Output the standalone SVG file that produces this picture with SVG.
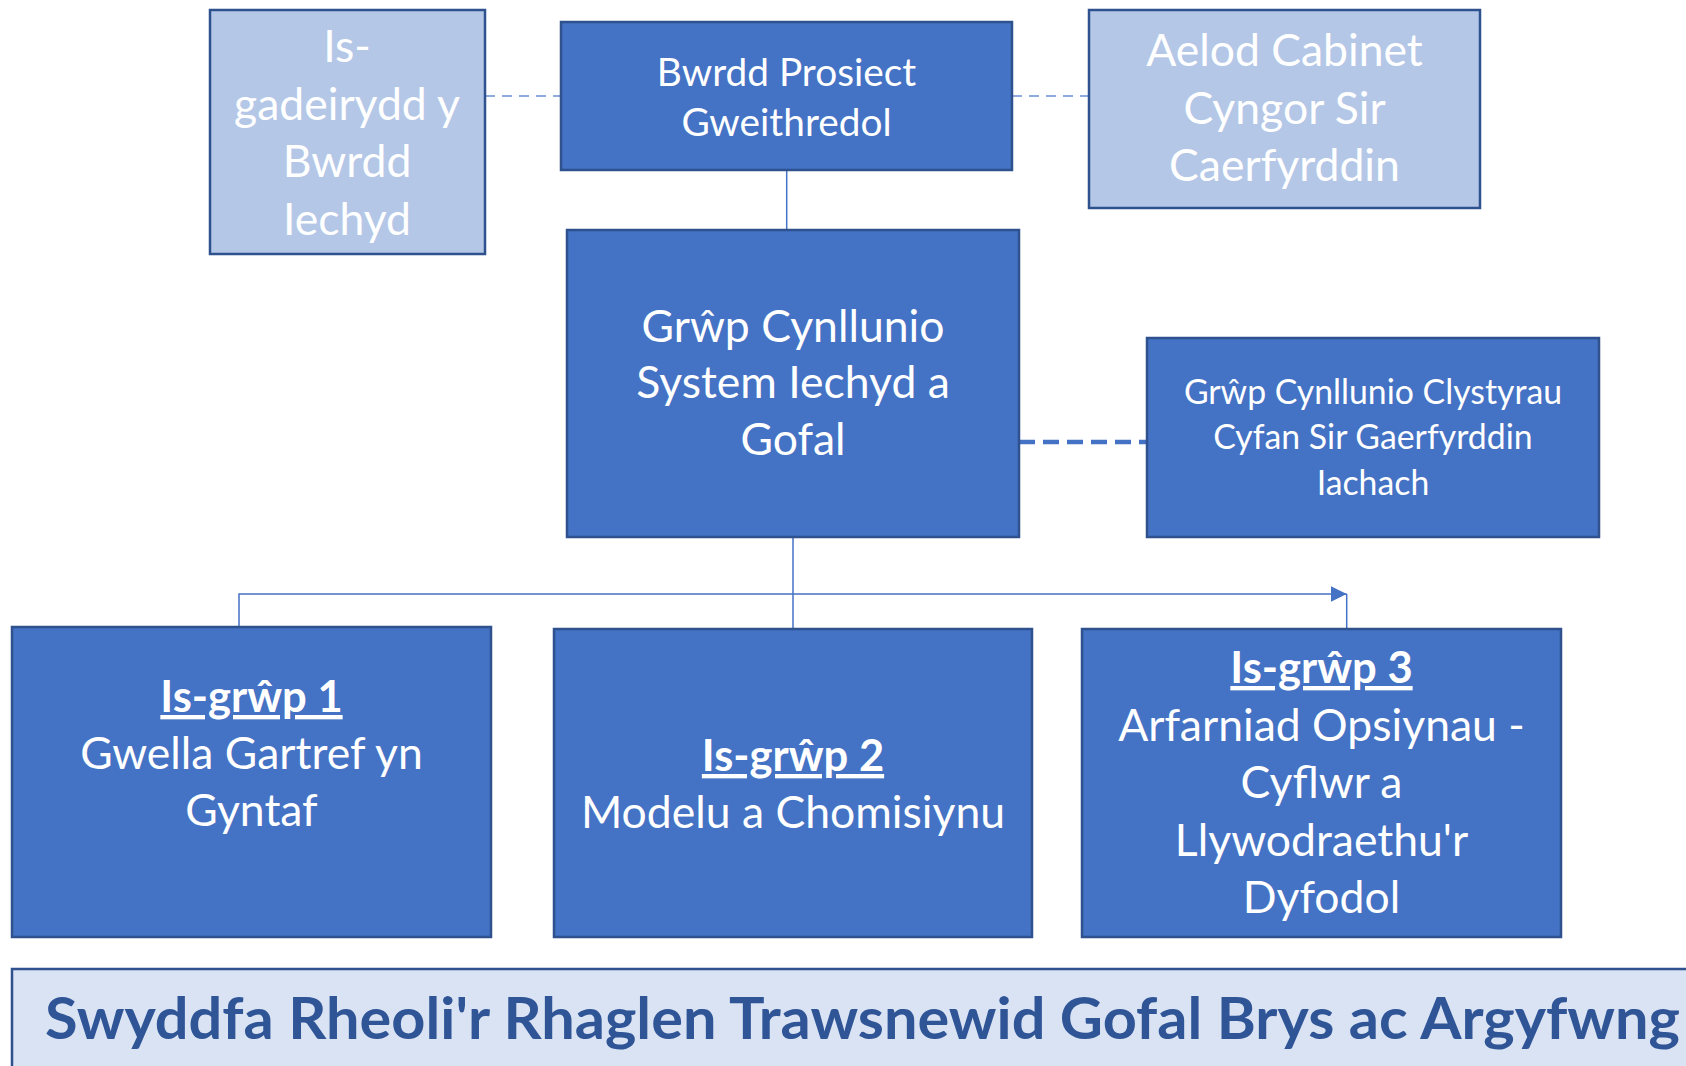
<svg xmlns="http://www.w3.org/2000/svg" width="1686" height="1066" viewBox="0 0 1686 1066">
<style>
.dark{fill:#4472C4;stroke:#2F528F;stroke-width:2.5}
.light{fill:#B4C7E7;stroke:#2F528F;stroke-width:2.5}
.banner{fill:#DAE3F3;stroke:#2F528F;stroke-width:2.5}
.t{font-family:Lato,Carlito,"Open Sans","Liberation Sans",sans-serif;fill:#FFFFFF;text-anchor:middle}
.f42{font-size:44.5px}
.f38{font-size:38.8px}
.f32{font-size:33.8px}
.b{font-weight:bold;font-size:43.5px;text-decoration:underline}
.bt{font-family:Lato,Carlito,"Open Sans","Liberation Sans",sans-serif;font-weight:bold;font-size:58px;fill:#2F5597}
.solid{fill:none;stroke:#4472C4;stroke-width:1.5}
.thin-dash{fill:none;stroke:#8FAADC;stroke-width:2;stroke-dasharray:10 7}
.thick-dash{fill:none;stroke:#4472C4;stroke-width:4.5;stroke-dasharray:16 8}
</style>
<defs>
<marker id="arrow" markerWidth="16" markerHeight="16" refX="16" refY="8" orient="auto" markerUnits="userSpaceOnUse">
<polygon points="0,0 16,8 0,16" fill="#4472C4"/>
</marker>
</defs>
<rect width="1686" height="1066" fill="#FFFFFF"/>
<g id="connectors">
<line class="thin-dash" x1="485" y1="96" x2="561" y2="96"/>
<line class="thin-dash" x1="1012" y1="96" x2="1089" y2="96"/>
<line class="solid" x1="786.7" y1="170" x2="786.7" y2="229"/>
<line class="thick-dash" x1="1019" y1="442" x2="1147" y2="442"/>
<line class="solid" x1="793" y1="537" x2="793" y2="629"/>
<path class="solid" d="M239,627 V594 H1346.7" marker-end="url(#arrow)"/>
<line class="solid" x1="1346.7" y1="594" x2="1346.7" y2="629"/>
</g>
<g id="is-gadeirydd">
<rect class="light" x="210" y="10" width="275" height="244"/>
<text class="t f42"><tspan x="347" y="62">Is-</tspan><tspan x="347" y="119.5">gadeirydd y</tspan><tspan x="347" y="177">Bwrdd</tspan><tspan x="347" y="234.5">Iechyd</tspan></text>
</g>
<g id="bwrdd-prosiect">
<rect class="dark" x="561" y="22" width="451" height="148"/>
<text class="t f38"><tspan x="786.5" y="85.7">Bwrdd Prosiect</tspan><tspan x="786.5" y="135.7">Gweithredol</tspan></text>
</g>
<g id="aelod-cabinet">
<rect class="light" x="1089" y="10" width="391" height="198"/>
<text class="t f42"><tspan x="1284.5" y="66">Aelod Cabinet</tspan><tspan x="1284.5" y="124">Cyngor Sir</tspan><tspan x="1284.5" y="181">Caerfyrddin</tspan></text>
</g>
<g id="grwp-cynllunio">
<rect class="dark" x="567" y="230" width="452" height="307"/>
<text class="t f42"><tspan x="793" y="341.7">Grŵp Cynllunio</tspan><tspan x="793" y="398.4">System Iechyd a</tspan><tspan x="793" y="455">Gofal</tspan></text>
</g>
<g id="clystyrau">
<rect class="dark" x="1147" y="338" width="452" height="199"/>
<text class="t f32"><tspan x="1373" y="404">Grŵp Cynllunio Clystyrau</tspan><tspan x="1373" y="449.3">Cyfan Sir Gaerfyrddin</tspan><tspan x="1373" y="495">Iachach</tspan></text>
</g>
<g id="is-grwp-1">
<rect class="dark" x="12" y="627" width="479" height="310"/>
<text class="t f42"><tspan class="b" x="251.5" y="712">Is-grŵp 1</tspan><tspan x="251.5" y="769">Gwella Gartref yn</tspan><tspan x="251.5" y="826">Gyntaf</tspan></text>
</g>
<g id="is-grwp-2">
<rect class="dark" x="554" y="629" width="478" height="308"/>
<text class="t f42"><tspan class="b" x="793" y="771">Is-grŵp 2</tspan><tspan x="793" y="828">Modelu a Chomisiynu</tspan></text>
</g>
<g id="is-grwp-3">
<rect class="dark" x="1082" y="629" width="479" height="308"/>
<text class="t f42"><tspan class="b" x="1321.5" y="683">Is-grŵp 3</tspan><tspan x="1321.5" y="740.5">Arfarniad Opsiynau -</tspan><tspan x="1321.5" y="798">Cyflwr a</tspan><tspan x="1321.5" y="855.5">Llywodraethu'r</tspan><tspan x="1321.5" y="913">Dyfodol</tspan></text>
</g>
<g id="swyddfa">
<rect class="banner" x="12" y="969" width="1690" height="110"/>
<text class="bt" x="45" y="1039" textLength="1635" lengthAdjust="spacingAndGlyphs">Swyddfa Rheoli'r Rhaglen Trawsnewid Gofal Brys ac Argyfwng</text>
</g>
</svg>
